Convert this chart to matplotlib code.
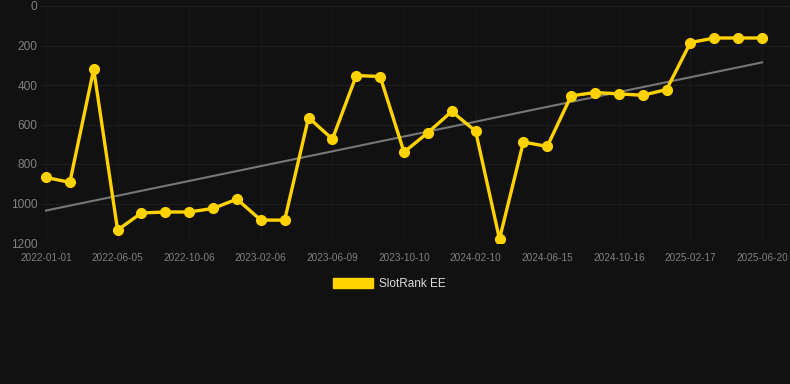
import numpy as np
import matplotlib.pyplot as plt
from matplotlib.patches import Patch

# rank values, one point per step (lower = better)
ranks = [868, 893, 320, 1134, 1048, 1043, 1043, 1025, 978, 1084,
         1084, 565, 674, 352, 357, 740, 641, 534, 634, 1180,
         689, 711, 455, 438, 445, 452, 423, 185, 162, 162, 162]
tick_labels = ["2022-01-01", "2022-06-05", "2022-10-06", "2023-02-06",
               "2023-06-09", "2023-10-10", "2024-02-10", "2024-06-15",
               "2024-10-16", "2025-02-17", "2025-06-20"]
y_ticks = [0, 200, 400, 600, 800, 1000, 1200]
series_name = "SlotRank EE"

plt.rcParams["font.family"] = ["Liberation Sans", "DejaVu Sans"]

bg = "#111111"
gold = "#FFD200"

x = np.arange(len(ranks))
slope, icpt = np.polyfit(x, ranks, 1)
trend = slope * x + icpt

fig = plt.figure(figsize=(7.9, 3.84), dpi=100, facecolor=bg)
ax = fig.add_axes([40 / 790, 1 - 243 / 384, 750 / 790, 237 / 384])
ax.set_facecolor(bg)

ax.plot(x, trend, color="#777777", lw=1.5, zorder=2)
ax.plot(x, ranks, color=gold, lw=2.4, marker="o", ms=7, zorder=3)

ax.set_ylim(1200, 0)
ax.set_xlim(-0.25, 31.17)
ax.set_yticks(y_ticks)
ax.set_xticks(x[::3])
ax.set_xticklabels(tick_labels)
ax.tick_params(axis="y", colors="#808080", labelsize=8.6, length=0, pad=2)
ax.tick_params(axis="x", colors="#808080", labelsize=7.2, length=0, pad=7)
ax.grid(True, axis="y", color="#1e1e1e", lw=0.8)
ax.grid(True, axis="x", color="#191919", lw=0.8)
for s in ax.spines.values():
    s.set_visible(False)

fig.legend(handles=[Patch(color=gold, label=series_name)],
           loc="center", bbox_to_anchor=(389.5 / 790, 1 - 284 / 384),
           frameon=False, fontsize=8.5, labelcolor="#dddddd",
           handlelength=3.4, handleheight=0.9, handletextpad=0.5)

fig.savefig("out.png", dpi=100, facecolor=bg)
